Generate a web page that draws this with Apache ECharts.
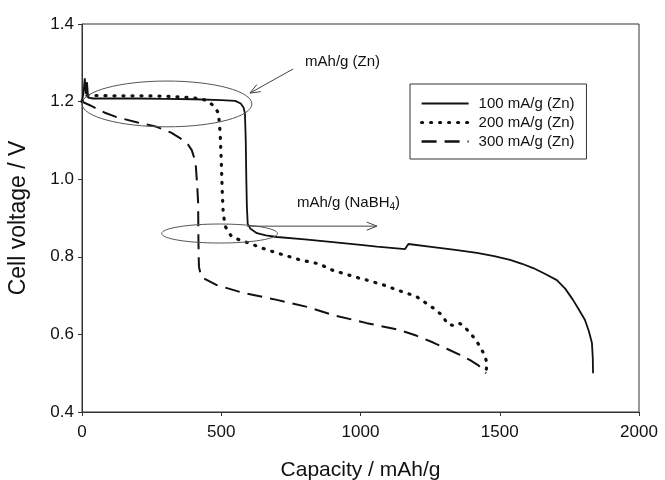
<!DOCTYPE html>
<html>
<head>
<meta charset="utf-8">
<script src="https://cdn.jsdelivr.net/npm/echarts@6/dist/echarts.min.js"></script>
<style>
  html, body { margin: 0; padding: 0; background: #fff; }
  #chart { width: 665px; height: 480px; }
</style>
</head>
<body>
<div id="chart"></div>
<script>
// ---- data ----
var seriesNames = ['100 mA/g (Zn)', '200 mA/g (Zn)', '300 mA/g (Zn)'];

var cap100 = [0, 5, 10, 14, 18, 22, 40, 100, 200, 300, 400, 500, 550, 570, 580, 585, 588, 590, 592, 595, 605, 628, 660, 700, 800, 901, 1000, 1059, 1160, 1163, 1172, 1261, 1340, 1418, 1480, 1537, 1580, 1620, 1660, 1705, 1735, 1763, 1785, 1806, 1820, 1831, 1834, 1835];
var volt100 = [1.20, 1.22, 1.26, 1.22, 1.25, 1.21, 1.208, 1.208, 1.208, 1.207, 1.206, 1.204, 1.202, 1.195, 1.185, 1.17, 1.10, 1.00, 0.93, 0.885, 0.872, 0.861, 0.855, 0.851, 0.845, 0.838, 0.831, 0.826, 0.820, 0.823, 0.833, 0.825, 0.818, 0.810, 0.802, 0.792, 0.782, 0.771, 0.757, 0.740, 0.718, 0.689, 0.663, 0.637, 0.608, 0.578, 0.54, 0.50];

var cap200 = [0, 8, 15, 30, 100, 200, 300, 400, 450, 477, 490, 496, 500, 503, 507, 515, 525, 538, 560, 600, 664, 700, 783, 850, 901, 1000, 1023, 1080, 1142, 1200, 1261, 1292, 1314, 1340, 1357, 1375, 1393, 1415, 1429, 1445, 1454, 1451];
var volt200 = [1.20, 1.215, 1.22, 1.216, 1.215, 1.215, 1.214, 1.21, 1.203, 1.186, 1.17, 1.12, 1.05, 0.98, 0.912, 0.878, 0.864, 0.852, 0.845, 0.835, 0.818, 0.810, 0.792, 0.782, 0.765, 0.744, 0.740, 0.728, 0.712, 0.698, 0.668, 0.650, 0.626, 0.622, 0.628, 0.618, 0.604, 0.585, 0.568, 0.548, 0.526, 0.503];

var cap300 = [0, 30, 80, 125, 200, 268, 320, 352, 380, 394, 405, 409, 414, 417, 418, 419, 420, 426, 435, 484, 578, 700, 808, 901, 1023, 1142, 1200, 1261, 1310, 1357, 1395, 1422, 1451];
var volt300 = [1.20, 1.19, 1.172, 1.160, 1.146, 1.135, 1.12, 1.106, 1.09, 1.075, 1.05, 1.031, 0.98, 0.939, 0.85, 0.80, 0.774, 0.755, 0.745, 0.727, 0.707, 0.689, 0.671, 0.650, 0.629, 0.611, 0.597, 0.579, 0.563, 0.547, 0.533, 0.521, 0.500];

var xTicks = { min: 0, max: 2000, interval: 500 };
var yTicks = { min: 0.4, max: 1.4, interval: 0.2 };

// annotation anchors in data units
var ellipseZn = { cx: 305, cy: 1.194, rx: 305, ry: 0.059 };
var ellipseNa = { cx: 494, cy: 0.860, rx: 208, ry: 0.0245 };
var arrowZn = { from: [758, 1.284], to: [603, 1.222] };
var arrowNa = { from: [592, 0.879], to: [1059, 0.879] };
var textZn = { at: [801, 1.302] };
var textNa = { at: [772, 0.939] };

function zip(xs, ys) { return xs.map(function (x, i) { return [x, ys[i]]; }); }

var FONT = '"Liberation Sans", Arial, sans-serif';
var INK = '#111';

var chart = echarts.init(document.getElementById('chart'), null, { renderer: 'canvas' });

var option = {
  animation: false,
  backgroundColor: '#fff',
  grid: { left: 82, right: 26, top: 24, bottom: 68, outerBoundsMode: 'none', containLabel: false,
    show: true, borderColor: '#333', borderWidth: 1, backgroundColor: 'transparent' },
  xAxis: {
    type: 'value', min: xTicks.min, max: xTicks.max, interval: xTicks.interval,
    name: 'Capacity / mAh/g', nameLocation: 'middle', nameGap: 48,
    nameTextStyle: { fontFamily: FONT, fontSize: 21, color: INK },
    axisLine: { show: true, lineStyle: { color: '#333', width: 1 } },
    axisTick: { show: true, length: 4, inside: false, lineStyle: { color: '#333' } },
    axisLabel: { fontFamily: FONT, fontSize: 17, color: INK, margin: 12,
      formatter: function (v) { return String(v); } },
    splitLine: { show: false }
  },
  yAxis: {
    type: 'value', min: yTicks.min, max: yTicks.max, interval: yTicks.interval,
    name: 'Cell voltage / V', nameLocation: 'middle', nameGap: 52,
    nameTextStyle: { fontFamily: FONT, fontSize: 23, color: INK },
    axisLine: { show: true, lineStyle: { color: '#333', width: 1 } },
    axisTick: { show: true, length: 4, inside: false, lineStyle: { color: '#333' } },
    axisLabel: { fontFamily: FONT, fontSize: 17, color: INK, margin: 8,
      formatter: function (v) { return v.toFixed(1); } },
    splitLine: { show: false }
  },
  legend: {
    orient: 'vertical', left: 410, top: 84,
    data: [
      { name: seriesNames[0] },
      { name: seriesNames[1], lineStyle: { width: 3.2 } },
      { name: seriesNames[2], lineStyle: { width: 2.4 } }
    ],
    backgroundColor: '#fff',
    borderColor: '#333', borderWidth: 1,
    padding: [12, 12, 10, 10],
    itemGap: 4, itemWidth: 47, itemHeight: 14,
    itemStyle: { opacity: 0 },
    textStyle: { fontFamily: FONT, fontSize: 15, color: INK, padding: [0, 0, 0, 5] }
  },
  series: [
    { name: seriesNames[0], type: 'line', symbol: 'none', data: zip(cap100, volt100),
      lineStyle: { color: INK, width: 1.8, type: 'solid' }, itemStyle: { color: INK }, z: 3 },
    { name: seriesNames[1], type: 'line', symbol: 'none', data: zip(cap200, volt200),
      lineStyle: { color: INK, width: 3.2, type: [1, 8], cap: 'round' }, itemStyle: { color: INK }, z: 3 },
    { name: seriesNames[2], type: 'line', symbol: 'none', data: zip(cap300, volt300),
      lineStyle: { color: INK, width: 2, type: [15, 8] }, itemStyle: { color: INK }, z: 3 }
  ]
};
chart.setOption(option);

function px(p) { return chart.convertToPixel({ gridIndex: 0 }, p); }
function ellipseEl(e) {
  var c = px([e.cx, e.cy]);
  var ex = px([e.cx + e.rx, e.cy]);
  var ey = px([e.cx, e.cy + e.ry]);
  return { type: 'ellipse', z: 10, silent: true,
    shape: { cx: c[0], cy: c[1], rx: Math.abs(ex[0] - c[0]), ry: Math.abs(c[1] - ey[1]) },
    style: { fill: null, stroke: '#555', lineWidth: 1 } };
}
function arrowEls(a) {
  var f = px(a.from), t = px(a.to);
  var ang = Math.atan2(t[1] - f[1], t[0] - f[0]);
  var L = 11, W = 0.38;
  var p1 = [t[0] - L * Math.cos(ang - W), t[1] - L * Math.sin(ang - W)];
  var p2 = [t[0] - L * Math.cos(ang + W), t[1] - L * Math.sin(ang + W)];
  return [
    { type: 'line', z: 10, silent: true, shape: { x1: f[0], y1: f[1], x2: t[0], y2: t[1] }, style: { stroke: '#444', lineWidth: 1 } },
    { type: 'polyline', z: 10, silent: true, shape: { points: [p1, t, p2] }, style: { stroke: '#444', lineWidth: 1, fill: null } }
  ];
}
var tz = px(textZn.at), tn = px(textNa.at);
var graphics = [ellipseEl(ellipseZn), ellipseEl(ellipseNa)]
  .concat(arrowEls(arrowZn)).concat(arrowEls(arrowNa))
  .concat([
    { type: 'text', z: 10, silent: true, x: tz[0], y: tz[1],
      style: { text: 'mAh/g (Zn)', font: '15px ' + FONT, fill: INK, verticalAlign: 'middle', align: 'left' } },
    { type: 'text', z: 10, silent: true, x: tn[0], y: tn[1],
      style: { text: '{a|mAh/g (NaBH}{s|4}{a|)}', fill: INK, verticalAlign: 'middle', align: 'left',
        rich: { a: { fontFamily: FONT, fontSize: 15, color: INK },
                s: { fontFamily: FONT, fontSize: 10, color: INK, padding: [8, 0, 0, 0] } } } }
  ]);
chart.setOption({ graphic: graphics });
</script>
</body>
</html>
